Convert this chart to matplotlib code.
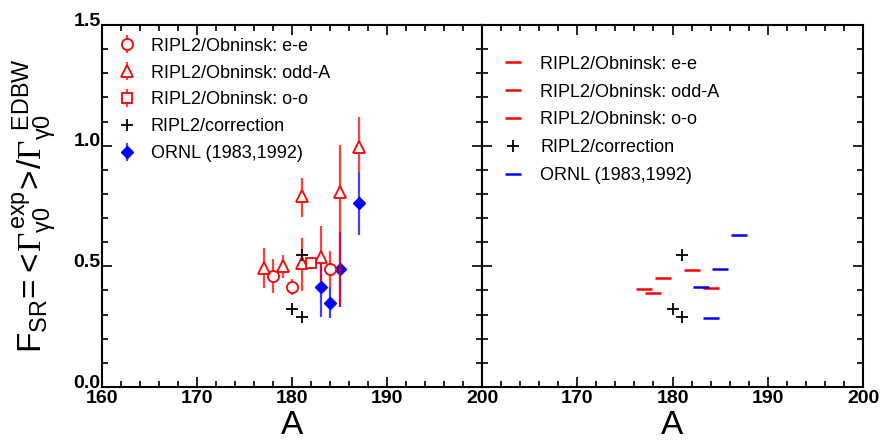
import matplotlib
matplotlib.use("Agg")
import matplotlib.pyplot as plt
import numpy as np
from matplotlib.ticker import MultipleLocator
from matplotlib.transforms import ScaledTranslation

plt.rcParams['font.family'] = ['Liberation Sans', 'DejaVu Sans']
plt.rcParams['mathtext.fontset'] = 'custom'
plt.rcParams['mathtext.rm'] = 'Liberation Sans'
plt.rcParams['mathtext.it'] = 'Liberation Sans'
plt.rcParams['mathtext.cal'] = 'Liberation Serif'

# ---- Left panel data ----
ee_A = [178, 180, 184]
ee_F = [0.46, 0.414, 0.488]
ee_lo = [0.388, 0.381, 0.416]
ee_hi = [0.53, 0.446, 0.565]

odd_A = [177, 179, 181, 181, 183, 185, 187]
odd_F = [0.494, 0.503, 0.79, 0.513, 0.54, 0.81, 0.996]
odd_lo = [0.41, 0.452, 0.706, 0.398, 0.44, 0.333, 0.89]
odd_hi = [0.576, 0.547, 0.865, 0.616, 0.668, 1.003, 1.12]

oo_A = [182]
oo_F = [0.513]
oo_lo = [0.488]
oo_hi = [0.537]

corr_A = [180, 181, 181]
corr_F = [0.322, 0.291, 0.547]

ornl_A = [183, 184, 185, 187]
ornl_F = [0.416, 0.347, 0.488, 0.761]
ornl_lo = [0.291, 0.285, 0.333, 0.63]
ornl_hi = [0.537, 0.413, 0.644, 0.892]

# ---- Right panel data ----
r_red_A = [177, 178, 179, 182, 184]
r_red_F = [0.407, 0.39, 0.452, 0.485, 0.41]
r_corr_A = [180, 181, 181]
r_corr_F = [0.322, 0.291, 0.547]
r_blue_A = [183, 184, 185, 187]
r_blue_F = [0.416, 0.285, 0.489, 0.631]

labels = ['RIPL2/Obninsk: e-e', 'RIPL2/Obninsk: odd-A', 'RIPL2/Obninsk: o-o',
          'RIPL2/correction', 'ORNL (1983,1992)']
xticks_left = [160, 170, 180, 190, 200]
xticks_right = [170, 180, 190, 200]
yticks = [0.0, 0.5, 1.0, 1.5]

fig = plt.figure(figsize=(8.84, 4.44), dpi=100)
axL = fig.add_axes([102/884, 57/444, 380/884, 362/444])
axR = fig.add_axes([482/884, 57/444, 381/884, 362/444])

RED = '#ff0000'
BLUE = '#0000ff'

def yerr(F, lo, hi):
    F = np.asarray(F); lo = np.asarray(lo); hi = np.asarray(hi)
    return np.vstack([F - lo, hi - F])

h = []
h.append(axL.errorbar(ee_A, ee_F, yerr=yerr(ee_F, ee_lo, ee_hi), fmt='o', mfc='white',
                      mec=RED, ms=8, mew=1.3, ecolor=(1, 0, 0, 0.75), elinewidth=1.6,
                      capsize=0, zorder=3, label=labels[0]))
h.append(axL.errorbar(odd_A, odd_F, yerr=yerr(odd_F, odd_lo, odd_hi), fmt='^', mfc='white',
                      mec=RED, ms=9, mew=1.3, ecolor=(1, 0, 0, 0.75), elinewidth=1.6,
                      capsize=0, zorder=3, label=labels[1]))
h.append(axL.errorbar(oo_A, oo_F, yerr=yerr(oo_F, oo_lo, oo_hi), fmt='s', mfc='white',
                      mec=RED, ms=7.5, mew=1.3, ecolor=(1, 0, 0, 0.75), elinewidth=1.6,
                      capsize=0, zorder=3, label=labels[2]))
h.append(axL.plot(corr_A, corr_F, '+', color='black', ms=9, mew=1.3, ls='none',
                  zorder=4, label=labels[3])[0])
h.append(axL.errorbar(ornl_A, ornl_F, yerr=yerr(ornl_F, ornl_lo, ornl_hi), fmt='D',
                      color=BLUE, mfc=BLUE, mec=BLUE, ms=6, ecolor=(0, 0, 1, 0.75),
                      elinewidth=1.6, capsize=0, zorder=2, label=labels[4]))

axL.legend(handles=h, labels=labels, loc='upper left', frameon=False, fontsize=13,
           bbox_to_anchor=(0.0, 1.0), borderaxespad=0.3, labelspacing=0.55,
           handletextpad=0.6, handlelength=1.4, borderpad=0.4)

hr = []
hr.append(axR.plot(r_red_A, r_red_F, '_', color=RED, ms=12, mew=1.8, ls='none')[0])
hr.append(axR.plot([], [], '_', color=RED, ms=12, mew=1.8, ls='none')[0])
hr.append(axR.plot([], [], '_', color=RED, ms=12, mew=1.8, ls='none')[0])
hr.append(axR.plot(r_corr_A, r_corr_F, '+', color='black', ms=9, mew=1.3, ls='none')[0])
hr.append(axR.plot(r_blue_A, r_blue_F, '_', color=BLUE, ms=12, mew=1.8, ls='none')[0])

axR.legend(handles=hr, labels=labels, loc='upper left', frameon=False, fontsize=13,
           bbox_to_anchor=(0.015, 0.95), borderaxespad=0.3, labelspacing=0.6,
           handletextpad=0.8, handlelength=1.4, borderpad=0.4)

for ax in (axL, axR):
    ax.set_xlim(160, 200)
    ax.set_ylim(0, 1.5)
    ax.xaxis.set_minor_locator(MultipleLocator(2))
    ax.yaxis.set_minor_locator(MultipleLocator(0.1))
    ax.tick_params(which='both', direction='in', top=True, right=True, width=1.2)
    ax.tick_params(which='major', length=7)
    ax.tick_params(which='minor', length=4)
    for s in ax.spines.values():
        s.set_linewidth(1.5)
    ax.set_xlabel('A', fontsize=24, labelpad=2)

tickfont = dict(fontweight='bold', fontsize=14)
axL.set_yticks(yticks)
axL.set_yticklabels(['%.1f' % v for v in yticks], **tickfont)
axR.set_yticks(yticks)
axL.tick_params(axis='y', pad=1)
shift = ScaledTranslation(0, 6/100, fig.dpi_scale_trans)
for lab in axL.get_yticklabels():
    lab.set_transform(lab.get_transform() + shift)
axL.set_xticks(xticks_left)
axL.set_xticklabels([str(v) for v in xticks_left], **tickfont)
axR.set_xticks(xticks_right)
axR.set_xticklabels([str(v) for v in xticks_right], **tickfont)
for ax in (axL, axR):
    ax.tick_params(axis='x', pad=2)
axR.tick_params(axis='y', labelleft=False)

axL.set_ylabel(r'$\mathrm{F_{SR}\!=\!<\!\mathcal{\Gamma}_{\gamma 0}^{\,exp}\!>\!/\mathcal{\Gamma}_{\gamma 0}^{\,\,\,EDBW}}$',
               fontsize=24, labelpad=10)

fig.savefig('out.png', dpi=100)
